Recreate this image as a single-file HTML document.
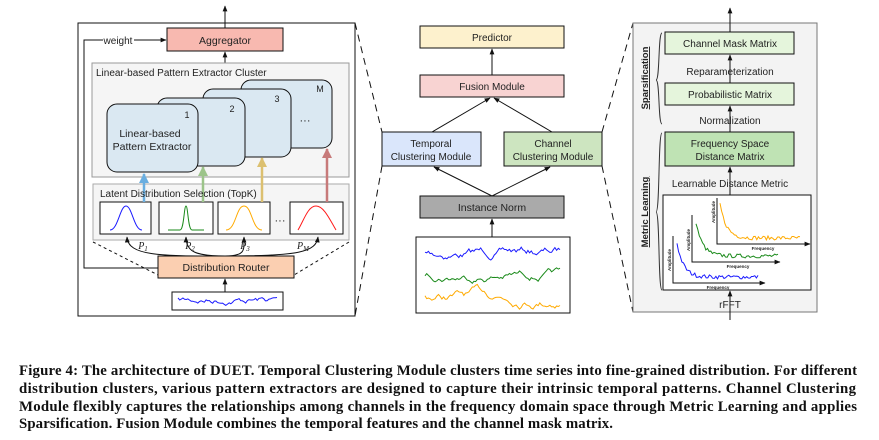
<!DOCTYPE html>
<html><head><meta charset="utf-8"><style>
html,body{margin:0;padding:0;background:#fff;}
svg{display:block;}
.t{font-family:"Liberation Sans",sans-serif;fill:#222;}
.c{font-family:"Liberation Serif",serif;font-weight:bold;font-size:14.8px;fill:#111;}
</style></head><body>
<svg id="s" width="879" height="440" viewBox="0 0 879 440" xmlns="http://www.w3.org/2000/svg">
<defs>
<marker id="a" viewBox="0 0 10 10" refX="9" refY="5" markerWidth="6" markerHeight="6" orient="auto"><path d="M0,1 L10,5 L0,9 z" fill="#111"/></marker>
<marker id="ab" viewBox="0 0 10 10" refX="9" refY="5" markerWidth="4" markerHeight="4" orient="auto"><path d="M0,0 L10,5 L0,10 z" fill="#6aaee0"/></marker>
<marker id="ag" viewBox="0 0 10 10" refX="9" refY="5" markerWidth="4" markerHeight="4" orient="auto"><path d="M0,0 L10,5 L0,10 z" fill="#9cc48a"/></marker>
<marker id="ay" viewBox="0 0 10 10" refX="9" refY="5" markerWidth="4" markerHeight="4" orient="auto"><path d="M0,0 L10,5 L0,10 z" fill="#dcc070"/></marker>
<marker id="ar" viewBox="0 0 10 10" refX="9" refY="5" markerWidth="4" markerHeight="4" orient="auto"><path d="M0,0 L10,5 L0,10 z" fill="#c77a7a"/></marker>
</defs>
<g stroke="#111" fill="none" stroke-width="1">
<rect x="78" y="23" width="277" height="293"/>
<line x1="225" y1="28" x2="225" y2="6" marker-end="url(#a)"/>
<polyline points="158,268 84,268 84,40 103,40"/>
<line x1="134" y1="40" x2="166" y2="40" marker-end="url(#a)"/>
<rect x="167" y="28" width="116" height="23" fill="#f8b9b0"/>
<line x1="225" y1="63" x2="225" y2="52" marker-end="url(#a)"/>
<rect x="92" y="63" width="257" height="114" fill="#f5f5f5" stroke="#999"/>
<rect x="241" y="80" width="91" height="68" rx="10" fill="#dae8f2"/>
<rect x="203" y="89" width="88" height="68" rx="10" fill="#dae8f2"/>
<rect x="157" y="98" width="88" height="68" rx="10" fill="#dae8f2"/>
<rect x="107" y="104" width="91" height="68" rx="10" fill="#dae8f2"/>
<rect x="93" y="184" width="256" height="56" fill="#f5f5f5" stroke="#aaa"/>
<rect x="100" y="202" width="51" height="32" fill="#fff"/>
<rect x="159" y="202" width="54" height="32" fill="#fff"/>
<rect x="218" y="202" width="52" height="32" fill="#fff"/>
<rect x="290" y="202" width="53" height="32" fill="#fff"/>
<path d="M110,230 C118,230 120,206 126,206 C132,206 134,230 142,230" stroke="#1a1aff"/>
<path d="M168,230 L180,230 C184,230 184,206 186,206 C188,206 188,230 192,230 L204,230" stroke="#1a8a1a"/>
<path d="M226,230 C236,230 236,206 244,206 C252,206 252,230 262,230" stroke="#ffaa00"/>
<path d="M298,230 C304,220 308,206 316,206 C324,206 330,220 336,230" stroke="#ff1a1a"/>
<line x1="144" y1="202" x2="144" y2="174" stroke="#6aaee0" stroke-width="2.5" marker-end="url(#ab)"/>
<line x1="203" y1="202" x2="203" y2="167" stroke="#9cc48a" stroke-width="2.5" marker-end="url(#ag)"/>
<line x1="262" y1="202" x2="262" y2="158" stroke="#dcc070" stroke-width="2.5" marker-end="url(#ay)"/>
<line x1="327" y1="202" x2="327" y2="149" stroke="#c77a7a" stroke-width="2.5" marker-end="url(#ar)"/>
<line x1="93" y1="242" x2="158" y2="275" stroke-dasharray="3,3"/>
<line x1="349" y1="242" x2="294" y2="275" stroke-dasharray="3,3"/>
<path d="M225,256 C160,256 128,256 127,237" marker-end="url(#a)"/>
<path d="M225,256 C196,256 186,252 186,237" marker-end="url(#a)"/>
<path d="M225,256 C246,256 244,250 244,237" marker-end="url(#a)"/>
<path d="M225,256 C300,256 316,252 318,237" marker-end="url(#a)"/>
<rect x="158" y="256" width="136" height="22" fill="#fbcfb1"/>
<rect x="172" y="292" width="111" height="18" fill="#fff"/>
<line x1="225" y1="292" x2="225" y2="279" marker-end="url(#a)"/>
<polyline id="lt" stroke="#1a1aff"/>
<line x1="355" y1="23" x2="382" y2="132" stroke-dasharray="7,5"/>
<line x1="382" y1="166" x2="355" y2="316" stroke-dasharray="7,5"/>
<line x1="602" y1="132" x2="633" y2="23" stroke-dasharray="7,5"/>
<line x1="602" y1="166" x2="633" y2="312" stroke-dasharray="7,5"/>
<rect x="420" y="26" width="144" height="22" fill="#fdf1cd"/>
<line x1="492" y1="75" x2="492" y2="49" marker-end="url(#a)"/>
<rect x="420" y="75" width="144" height="22" fill="#f8d3d2"/>
<line x1="432" y1="132" x2="490" y2="98" marker-end="url(#a)"/>
<line x1="552" y1="132" x2="494" y2="98" marker-end="url(#a)"/>
<rect x="382" y="132" width="99" height="34" fill="#dae6fb"/>
<rect x="504" y="132" width="98" height="34" fill="#cde5c0"/>
<line x1="492" y1="196" x2="434" y2="167" marker-end="url(#a)"/>
<line x1="492" y1="196" x2="550" y2="167" marker-end="url(#a)"/>
<rect x="420" y="196" width="144" height="22" fill="#aaa"/>
<line x1="492" y1="237" x2="492" y2="219" marker-end="url(#a)"/>
<rect x="416" y="237" width="154" height="76" fill="#fff"/>
<polyline id="m1" stroke="#1a1aff"/><polyline id="m2" stroke="#1a8a1a"/><polyline id="m3" stroke="#ffaa00"/>
<rect x="633" y="23" width="184" height="289" fill="#f3f3f3" stroke="#777"/>
<line x1="730" y1="23" x2="730" y2="8" marker-end="url(#a)"/>
<line x1="730" y1="32" x2="730" y2="23"/>
<rect x="665" y="32" width="129" height="22" fill="#e5f5dc"/>
<line x1="730" y1="83" x2="730" y2="55" marker-end="url(#a)"/>
<rect x="665" y="83" width="129" height="22" fill="#e5f5dc"/>
<line x1="730" y1="132" x2="730" y2="106" marker-end="url(#a)"/>
<rect x="665" y="132" width="129" height="34" fill="#bfe3b4"/>
<line x1="730" y1="195" x2="730" y2="167" marker-end="url(#a)"/>
<rect x="663" y="195" width="148" height="95" fill="#fff"/>
<line x1="730" y1="320" x2="730" y2="291" marker-end="url(#a)"/>
<path d="M662,33 C658,33 660,80 656,80 C660,80 658,124 662,124" stroke="#333"/>
<path d="M662,133 C658,133 660,212 656,212 C660,212 658,290 662,290" stroke="#333"/>
<polyline points="673,236 673,283 765,283" marker-end="url(#a)"/>
<polyline points="692,215 692,262 780,262" marker-end="url(#a)"/>
<polyline points="717,198 717,244 810,244" marker-end="url(#a)"/>
<polyline id="s1" stroke="#1a1aff"/><polyline id="s2" stroke="#1a8a1a"/><polyline id="s3" stroke="#ffaa00"/>
</g>
<g class="t" font-size="10.5" text-anchor="middle">
<text x="225" y="44">Aggregator</text>
<text x="118" y="44" font-size="10">weight</text>
<text x="96" y="76" text-anchor="start" font-size="10">Linear-based Pattern Extractor Cluster</text>
<text x="187" y="118" font-size="9">1</text><text x="232" y="112" font-size="9">2</text>
<text x="277" y="102" font-size="9">3</text><text x="320" y="92" font-size="9">M</text>
<text x="305" y="124" font-size="11">···</text>
<text x="150" y="137">Linear-based</text><text x="152" y="150">Pattern Extractor</text>
<text x="100" y="197" text-anchor="start" font-size="10">Latent Distribution Selection (TopK)</text>
<text x="280" y="224" font-size="11">···</text>
<g font-family="Liberation Serif" font-style="italic" font-size="10"><text x="143" y="249">P<tspan font-size="7" dy="2">1</tspan></text><text x="190" y="249">P<tspan font-size="7" dy="2">2</tspan></text><text x="245" y="249">P<tspan font-size="7" dy="2">3</tspan></text><text x="303" y="249">P<tspan font-size="7" dy="2">M</tspan></text></g>
<text x="226" y="271">Distribution Router</text>
<text x="492" y="41" font-size="10">Predictor</text>
<text x="492" y="90" font-size="10">Fusion Module</text>
<text x="431" y="147" font-size="10">Temporal</text><text x="431" y="160" font-size="10">Clustering Module</text>
<text x="553" y="147" font-size="10">Channel</text><text x="553" y="160" font-size="10">Clustering Module</text>
<text x="492" y="211">Instance Norm</text>
<text x="730" y="47" font-size="10">Channel Mask Matrix</text>
<text x="730" y="75" font-size="10">Reparameterization</text>
<text x="730" y="98" font-size="10">Probabilistic Matrix</text>
<text x="730" y="124" font-size="10">Normalization</text>
<text x="730" y="147" font-size="10">Frequency Space</text><text x="730" y="160" font-size="10">Distance Matrix</text>
<text x="730" y="187" font-size="10">Learnable Distance Metric</text>
<text x="730" y="308" font-size="10">rFFT</text>
<g font-weight="bold" font-size="9.5" text-decoration="underline">
<text transform="translate(648,78) rotate(-90)">Sparsification</text>
<text transform="translate(648,212) rotate(-90)">Metric  Learning</text></g>
<g font-size="4.5" font-weight="bold">
<text x="718" y="289">Frequency</text><text x="738" y="268">Frequency</text><text x="763" y="250">Frequency</text>
<text transform="translate(671,260) rotate(-90)">Amplitude</text>
<text transform="translate(690,240) rotate(-90)">Amplitude</text>
<text transform="translate(715,212) rotate(-90)">Amplitude</text></g>
</g>
<text class="c" x="19" y="375" textLength="838" lengthAdjust="spacing">Figure 4: The architecture of DUET. Temporal Clustering Module clusters time series into fine-grained distribution. For different</text>
<text class="c" x="19" y="393" textLength="837" lengthAdjust="spacing">distribution clusters, various pattern extractors are designed to capture their intrinsic temporal patterns. Channel Clustering</text>
<text class="c" x="19" y="411" textLength="838" lengthAdjust="spacing">Module flexibly captures the relationships among channels in the frequency domain space through Metric Learning and applies</text>
<text class="c" x="19" y="428" textLength="594" lengthAdjust="spacing">Sparsification. Fusion Module combines the temporal features and the channel mask matrix.</text>
</svg>
<script>
var seed=7;function r(){seed=(seed*16807)%2147483647;return seed/2147483647;}
function walk(id,x0,x1,y0,amp,n,k){var p=[],y=y0;for(var i=0;i<=n;i++){y+=(r()-0.5)*amp;y+=(y0-y)*k;p.push((x0+(x1-x0)*i/n).toFixed(1)+","+y.toFixed(1));}document.getElementById(id).setAttribute("points",p.join(" "));}
walk("lt",178,277,300,5,60,0.15);
walk("m1",425,560,252,6,80,0.06);walk("m2",425,560,274,5,80,0.06);walk("m3",425,560,296,6,80,0.06);
function spec(id,x0,x1,yb,top,n){var p=[];for(var i=0;i<=n;i++){var d=top*Math.exp(-i/(n*0.08))+r()*4+1;p.push((x0+(x1-x0)*i/n).toFixed(1)+","+(yb-d).toFixed(1));}document.getElementById(id).setAttribute("points",p.join(" "));}
spec("s1",677,758,280,34,50);spec("s2",696,778,259,34,50);spec("s3",720,800,241,34,50);
</script>
</body></html>
